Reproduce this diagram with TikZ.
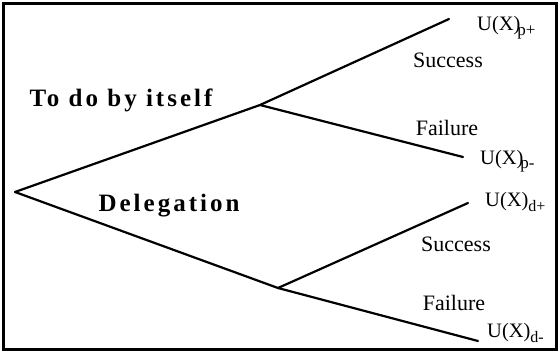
\documentclass[tikz,border=0pt]{standalone}
\usepackage{fontspec}
\setmainfont{Liberation Serif}
\begin{document}
\begin{tikzpicture}[x=1pt,y=-1pt,
  branch/.style={line width=2.2pt,line cap=round,line join=round},
  lbl/.style={inner sep=0pt,font=\fontsize{22}{26}\selectfont},
  boldlbl/.style={inner sep=0pt,font=\fontsize{25}{29}\selectfont\bfseries\addfontfeature{LetterSpace=12}},
  util/.style={inner sep=0pt,anchor=base west,font=\fontsize{20.5}{24}\selectfont},
  sub/.style={}]
\useasboundingbox (0,0) rectangle (560,353);
\draw[line width=3pt] (3.5,3.5) rectangle (556.5,349.5);
\coordinate (root) at (15,192);
\coordinate (self) at (260,105);
\coordinate (dele) at (278,288);
\coordinate (sp) at (449,19);
\coordinate (sm) at (463,157);
\coordinate (dp) at (468,203);
\coordinate (dm) at (478,341);
\draw[branch] (root) -- (self) -- (sp);
\draw[branch] (self) -- (sm);
\draw[branch] (root) -- (dele) -- (dp);
\draw[branch] (dele) -- (dm);
\node[boldlbl] (tself) at (121,100) {To do by itself};
\node[boldlbl] (tdele) at (169,206) {Delegation};
\node[lbl] (s1) at (448,60) {Success};
\node[lbl] (f1) at (447,128) {Failure};
\node[lbl] (s2) at (456,244) {Success};
\node[lbl] (f2) at (454,303) {Failure};
\node[util] (up) at (477,31) {U(X)\kern-3pt\raisebox{-5pt}{\fontsize{17}{17}\selectfont p+}};
\node[util] (um) at (480,164) {U(X)\kern-3pt\raisebox{-5pt}{\fontsize{17}{17}\selectfont p-}};
\node[util] (dup) at (485,206) {U(X)\raisebox{-5pt}{\fontsize{16}{16}\selectfont d+}};
\node[util] (dum) at (487,337) {U(X)\raisebox{-5pt}{\fontsize{16}{16}\selectfont d-}};
\end{tikzpicture}
\end{document}
